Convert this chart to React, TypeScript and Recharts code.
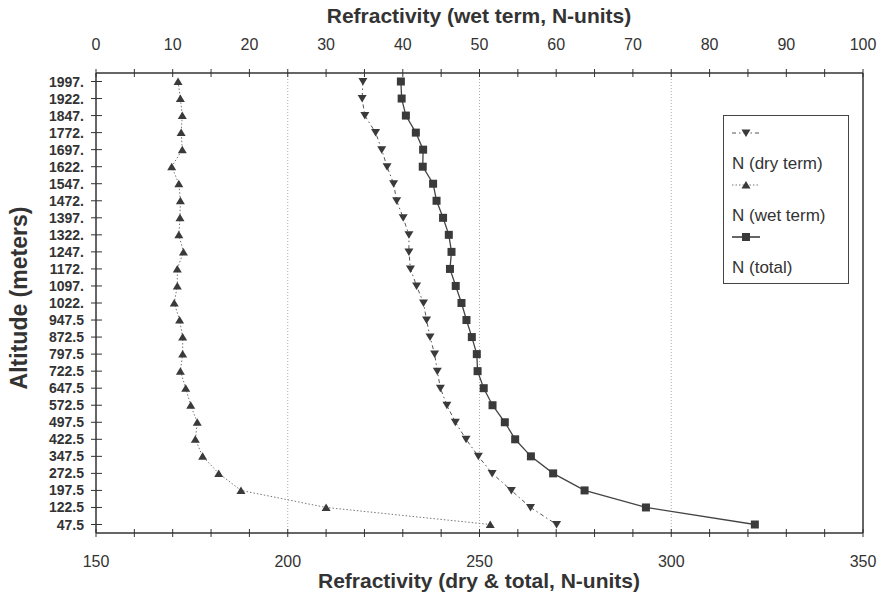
import React from 'react';
import { ComposedChart, Line, XAxis, YAxis, ReferenceLine, Legend } from 'recharts';

const altitudes = ['1997.', '1922.', '1847.', '1772.', '1697.', '1622.', '1547.', '1472.', '1397.', '1322.', '1247.', '1172.', '1097.', '1022.', '947.5', '872.5', '797.5', '722.5', '647.5', '572.5', '497.5', '422.5', '347.5', '272.5', '197.5', '122.5', '47.5'];
const dryTerm = [219.6, 219.4, 220.1, 222.9, 224.5, 225.9, 227.6, 228.4, 230.1, 231.6, 231.6, 232.0, 233.6, 235.4, 236.2, 237.1, 238.3, 239.0, 239.8, 241.5, 243.7, 246.5, 249.7, 253.3, 258.3, 263.3, 270.1];
const wetTerm = [10.7, 11.0, 11.25, 11.1, 11.25, 9.87, 10.8, 11.0, 10.95, 10.8, 11.4, 10.6, 10.6, 10.2, 10.9, 11.3, 11.3, 11.0, 11.7, 12.35, 13.2, 12.95, 13.9, 16.0, 18.9, 30.0, 51.4];
const totalN = [229.5, 229.7, 230.8, 233.4, 235.3, 235.2, 237.9, 238.8, 240.5, 242.0, 242.7, 242.3, 243.8, 245.3, 246.6, 248.0, 249.3, 249.5, 251.1, 253.4, 256.6, 259.3, 263.4, 269.2, 277.4, 293.4, 321.8];

const bottomTicks = [150, 160, 170, 180, 190, 200, 210, 220, 230, 240, 250, 260, 270, 280, 290, 300, 310, 320, 330, 340, 350];
const bottomLabels = [150, 200, 250, 300, 350];
const topTicks = [0, 5, 10, 15, 20, 25, 30, 35, 40, 45, 50, 55, 60, 65, 70, 75, 80, 85, 90, 95, 100];
const topLabels = [0, 10, 20, 30, 40, 50, 60, 70, 80, 90, 100];
const gridValues = [200, 250, 300];

const seriesNames = ['N (dry term)', 'N (wet term)', 'N (total)'];

const data = altitudes.map((alt, i) => ({ alt, dry: dryTerm[i], wet: wetTerm[i], total: totalN[i] }));

const FONT = '"Liberation Sans", Arial, sans-serif';
const INK = '#333';
const MARK = '#3a3a3a';

const downTri = (cx: number, cy: number, k?: any) => (
  <path key={k} d={`M${cx - 4.5},${cy - 3.5}L${cx + 4.5},${cy - 3.5}L${cx},${cy + 4}Z`} fill={MARK} stroke="none" />
);
const upTri = (cx: number, cy: number, k?: any) => (
  <path key={k} d={`M${cx - 4.5},${cy + 3.5}L${cx + 4.5},${cy + 3.5}L${cx},${cy - 4}Z`} fill={MARK} stroke="none" />
);
const square = (cx: number, cy: number, k?: any) => (
  <rect key={k} x={cx - 4} y={cy - 4} width={8} height={8} fill={MARK} stroke="none" />
);

const BottomTick = (props: any) => {
  const { x, y, payload } = props;
  const v = payload.value;
  return (
    <g>
      <line x1={x} x2={x} y1={y - 4} y2={y + 4} stroke={INK} strokeWidth={1} />
      {bottomLabels.includes(v) && (
        <text x={x} y={y + 28} textAnchor="middle" dominantBaseline="central" fontSize={16} fill={INK} fontFamily={FONT}>
          {v}
        </text>
      )}
    </g>
  );
};

const TopTick = (props: any) => {
  const { x, y, payload } = props;
  const v = payload.value;
  return (
    <g>
      <line x1={x} x2={x} y1={y - 4} y2={y + 4} stroke={INK} strokeWidth={1} />
      {topLabels.includes(v) && (
        <text x={x} y={y - 29} textAnchor="middle" dominantBaseline="central" fontSize={16} fill={INK} fontFamily={FONT}>
          {v}
        </text>
      )}
    </g>
  );
};

const LeftTick = (props: any) => {
  const { x, y, payload } = props;
  return (
    <g>
      <line x1={x - 5} x2={x + 6} y1={y} y2={y} stroke={INK} strokeWidth={1} />
      <text x={x - 12} y={y} textAnchor="end" dominantBaseline="central" fontSize={14} fontWeight="bold" fill={INK} fontFamily={FONT}>
        {payload.value}
      </text>
    </g>
  );
};

const LegendContent = () => {
  const sym = [
    { dash: '4 3 1.5 3', marker: downTri(14, 9), color: '#555', w: 1 },
    { dash: '1.5 2', marker: upTri(14, 9), color: '#777', w: 1 },
    { dash: undefined, marker: square(14, 9), color: '#333', w: 1.5 },
  ];
  return (
    <div style={{ border: '1.5px solid #444', width: 126, height: 169, boxSizing: 'border-box', padding: '8px 0 0 8px', fontFamily: FONT, color: INK, background: '#fff' }}>
      {seriesNames.map((n, i) => (
        <div key={n} style={{ height: 52 }}>
          <svg width={30} height={18} style={{ display: 'block' }}>
            <line x1={0} x2={28} y1={9} y2={9} stroke={sym[i].color} strokeWidth={sym[i].w} strokeDasharray={sym[i].dash} />
            {sym[i].marker}
          </svg>
          <div style={{ fontSize: 17, lineHeight: '22px', marginTop: 11, whiteSpace: 'nowrap' }}>{n}</div>
        </div>
      ))}
    </div>
  );
};

export default function App() {
  return (
    <div style={{ position: 'absolute', left: 0, top: 0, width: 879, height: 601, background: '#fff' }}>
      <ComposedChart
        layout="vertical"
        width={879}
        height={601}
        data={data}
        margin={{ top: 0, right: 16, bottom: 0, left: 0 }}
      >
        <XAxis
          xAxisId="bottom"
          type="number"
          orientation="bottom"
          domain={[150, 350]}
          ticks={bottomTicks}
          interval={0}
          height={68}
          tickSize={0}
          tickMargin={0}
          tickLine={false}
          axisLine={{ stroke: INK, strokeWidth: 1.5 }}
          tick={<BottomTick />}
          allowDataOverflow
        />
        <XAxis
          xAxisId="top"
          type="number"
          orientation="top"
          domain={[0, 100]}
          ticks={topTicks}
          interval={0}
          height={73}
          tickSize={0}
          tickMargin={0}
          tickLine={false}
          axisLine={{ stroke: INK, strokeWidth: 1.5 }}
          tick={<TopTick />}
          allowDataOverflow
        />
        <YAxis
          yAxisId="alt"
          type="category"
          dataKey="alt"
          width={96}
          interval={0}
          padding={{ top: 8.5, bottom: 8.5 }}
          tickSize={0}
          tickMargin={0}
          tickLine={false}
          axisLine={{ stroke: INK, strokeWidth: 1.5 }}
          tick={<LeftTick />}
        />
        {gridValues.map((g) => (
          <ReferenceLine key={g} x={g} xAxisId="bottom" yAxisId="alt" stroke="#aaa" strokeDasharray="1 2" />
        ))}
        <ReferenceLine x={350} xAxisId="bottom" yAxisId="alt" stroke={INK} strokeWidth={1.5} />
        <Line
          xAxisId="bottom"
          yAxisId="alt"
          dataKey="dry"
          name={seriesNames[0]}
          type="linear"
          stroke="#555"
          strokeWidth={1}
          strokeDasharray="4 3 1.5 3"
          dot={(p: any) => downTri(p.cx, p.cy, p.key ?? `d${p.index}`)}
          isAnimationActive={false}
        />
        <Line
          xAxisId="top"
          yAxisId="alt"
          dataKey="wet"
          name={seriesNames[1]}
          type="linear"
          stroke="#777"
          strokeWidth={1}
          strokeDasharray="1.5 2"
          dot={(p: any) => upTri(p.cx, p.cy, p.key ?? `w${p.index}`)}
          isAnimationActive={false}
        />
        <Line
          xAxisId="bottom"
          yAxisId="alt"
          dataKey="total"
          name={seriesNames[2]}
          type="linear"
          stroke="#444"
          strokeWidth={1.3}
          dot={(p: any) => square(p.cx, p.cy, p.key ?? `t${p.index}`)}
          isAnimationActive={false}
        />
        <Legend
          layout="vertical"
          align="center"
          verticalAlign="middle"
          content={<LegendContent />}
          wrapperStyle={{ position: 'absolute', left: 723, top: 115, width: 126, height: 169 }}
        />
      </ComposedChart>
      <div style={{ position: 'absolute', left: 0, width: 958, top: 4, textAlign: 'center', fontFamily: FONT, fontWeight: 'bold', fontSize: 21, color: INK, whiteSpace: 'nowrap' }}>
        Refractivity (wet term, N-units)
      </div>
      <div style={{ position: 'absolute', left: 0, width: 958, top: 569, textAlign: 'center', fontFamily: FONT, fontWeight: 'bold', fontSize: 21, color: INK, whiteSpace: 'nowrap' }}>
        Refractivity (dry &amp; total, N-units)
      </div>
      <div style={{ position: 'absolute', left: 19, top: 298, width: 0, height: 0 }}>
        <div style={{ position: 'absolute', left: -150, top: -14, width: 300, textAlign: 'center', transform: 'rotate(-90deg)', fontFamily: FONT, fontWeight: 'bold', fontSize: 23, color: INK, whiteSpace: 'nowrap', lineHeight: '28px' }}>
          Altitude (meters)
        </div>
      </div>
    </div>
  );
}
